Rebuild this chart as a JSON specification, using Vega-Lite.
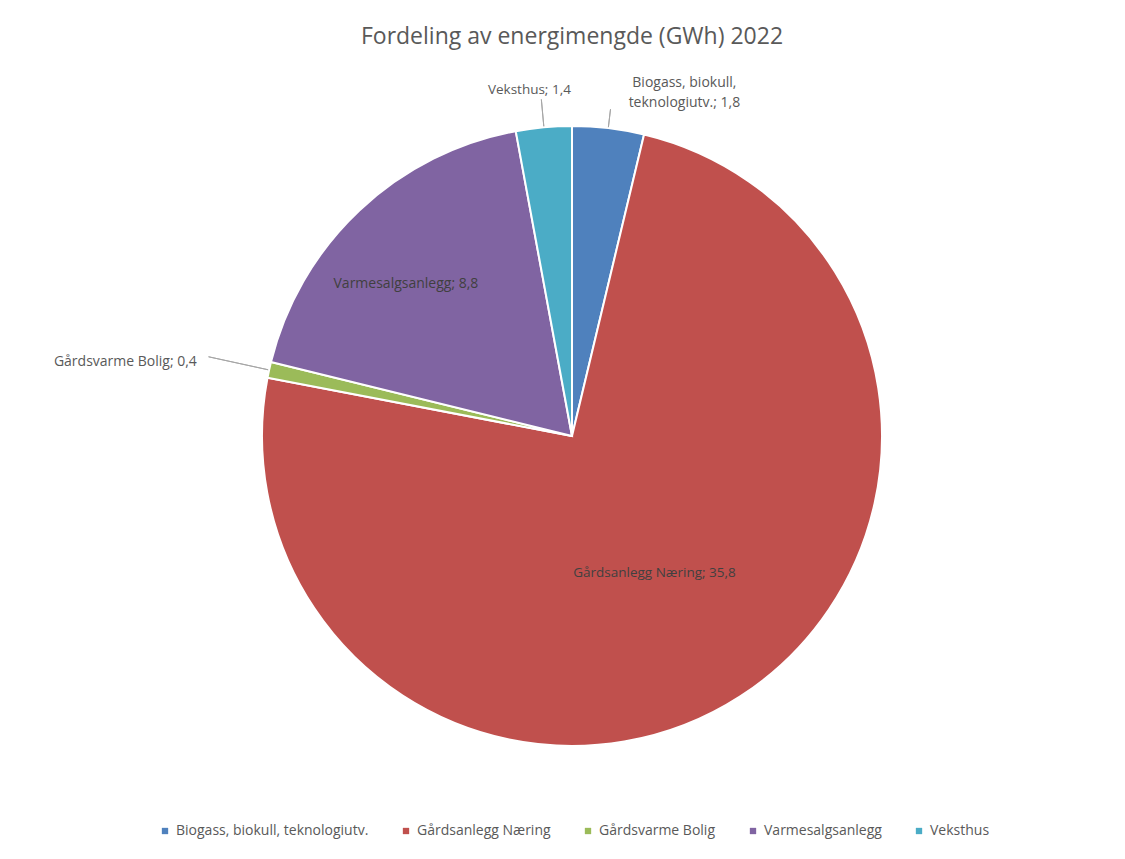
{
  "$schema": "https://vega.github.io/schema/vega-lite/v6.json",
  "width": 1106,
  "height": 846,
  "autosize": {"type": "none"},
  "padding": {"left": 19, "top": 13, "right": 0, "bottom": 0},
  "background": "white",
  "title": {
    "text": "Fordeling av energimengde (GWh) 2022",
    "font": "Open Sans",
    "fontSize": 23,
    "fontWeight": "normal",
    "color": "#595959",
    "anchor": "middle",
    "offset": -36
  },
  "data": {
    "values": [
      {"kategori": "Biogass, biokull, teknologiutv.", "gwh": 1.8, "etikett": "Biogass, biokull,\nteknologiutv.; 1,8"},
      {"kategori": "Gårdsanlegg Næring", "gwh": 35.8, "etikett": "Gårdsanlegg Næring; 35,8"},
      {"kategori": "Gårdsvarme Bolig", "gwh": 0.4, "etikett": "Gårdsvarme Bolig; 0,4"},
      {"kategori": "Varmesalgsanlegg", "gwh": 8.8, "etikett": "Varmesalgsanlegg; 8,8"},
      {"kategori": "Veksthus", "gwh": 1.4, "etikett": "Veksthus; 1,4"}
    ]
  },
  "layer": [
    {
      "mark": {"type": "arc", "outerRadius": 310, "stroke": "white", "strokeWidth": 2},
      "encoding": {
        "theta": {"field": "gwh", "type": "quantitative", "stack": true},
        "color": {
          "field": "kategori",
          "type": "nominal",
          "scale": {
            "domain": ["Biogass, biokull, teknologiutv.", "Gårdsanlegg Næring", "Gårdsvarme Bolig", "Varmesalgsanlegg", "Veksthus"],
            "range": ["#4F81BD", "#C0504D", "#9BBB59", "#8064A2", "#4BACC6"]
          },
          "legend": {
            "orient": "none",
            "legendX": 139,
            "legendY": 811,
            "direction": "horizontal",
            "title": null,
            "symbolType": "square",
            "symbolSize": 40,
            "symbolStrokeWidth": 0,
            "labelFont": "Open Sans",
            "labelFontSize": 14,
            "labelLimit": 0,
            "labelColor": "#595959",
            "labelOffset": 4,
            "columnPadding": 30
          }
        }
      }
    },
    {
      "transform": [{"filter": "datum.kategori === 'Veksthus'"}],
      "mark": {"type": "arc", "theta": 6.1924, "theta2": 6.1924, "radius": 338, "radius2": 311, "fill": null, "stroke": "#A6A6A6", "strokeWidth": 1},
      "encoding": {}
    },
    {
      "transform": [{"filter": "datum.kategori === 'Biogass, biokull, teknologiutv.'"}],
      "mark": {"type": "arc", "theta": 0.1173, "theta2": 0.1173, "radius": 329, "radius2": 311, "fill": null, "stroke": "#A6A6A6", "strokeWidth": 1},
      "encoding": {}
    },
    {
      "transform": [{"filter": "datum.kategori === 'Gårdsvarme Bolig'"}],
      "mark": {"type": "arc", "theta": 4.927, "theta2": 4.927, "radius": 372, "radius2": 311, "fill": null, "stroke": "#A6A6A6", "strokeWidth": 1},
      "encoding": {}
    },
    {
      "mark": {"type": "text", "radius": 163, "dx": -6, "font": "Open Sans", "fontSize": 13.5, "fill": "#404040", "align": "center", "baseline": "middle"},
      "encoding": {
        "theta": {"field": "gwh", "type": "quantitative", "stack": true},
        "text": {"condition": {"test": "datum.kategori === 'Gårdsanlegg Næring'", "field": "etikett"}, "value": ""}
      }
    },
    {
      "mark": {"type": "text", "radius": 226, "dx": -11, "dy": 12, "font": "Open Sans", "fontSize": 14, "fill": "#404040", "align": "center", "baseline": "middle"},
      "encoding": {
        "theta": {"field": "gwh", "type": "quantitative", "stack": true},
        "text": {"condition": {"test": "datum.kategori === 'Varmesalgsanlegg'", "field": "etikett"}, "value": ""}
      }
    },
    {
      "mark": {"type": "text", "radius": 347, "dx": -11, "font": "Open Sans", "fontSize": 13.5, "fill": "#595959", "align": "center", "baseline": "middle"},
      "encoding": {
        "theta": {"field": "gwh", "type": "quantitative", "stack": true},
        "text": {"condition": {"test": "datum.kategori === 'Veksthus'", "field": "etikett"}, "value": ""}
      }
    },
    {
      "mark": {"type": "text", "radius": 345, "dx": 72, "dy": -10, "font": "Open Sans", "fontSize": 14, "fill": "#595959", "align": "center", "baseline": "middle", "lineBreak": "\n", "lineHeight": 20},
      "encoding": {
        "theta": {"field": "gwh", "type": "quantitative", "stack": true},
        "text": {"condition": {"test": "datum.kategori === 'Biogass, biokull, teknologiutv.'", "field": "etikett"}, "value": ""}
      }
    },
    {
      "mark": {"type": "text", "radius": 384, "dy": 8, "font": "Open Sans", "fontSize": 14, "fill": "#595959", "align": "right", "baseline": "middle"},
      "encoding": {
        "theta": {"field": "gwh", "type": "quantitative", "stack": true},
        "text": {"condition": {"test": "datum.kategori === 'Gårdsvarme Bolig'", "field": "etikett"}, "value": ""}
      }
    }
  ],
  "config": {"view": {"stroke": null}}
}
